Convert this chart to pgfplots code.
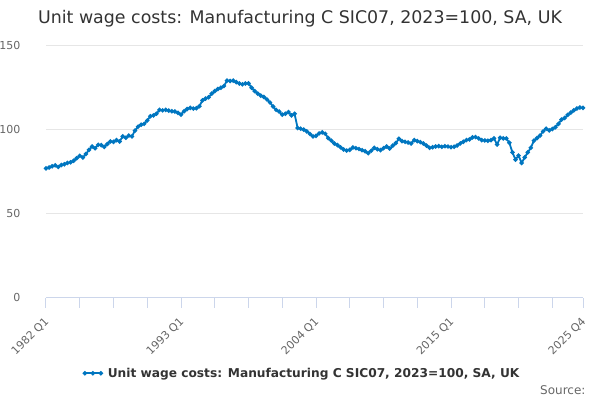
\documentclass[border=0pt]{standalone}
\usepackage{pgfplots}
\pgfplotsset{compat=1.18}
\usepackage{pgfplotstable}
\usepackage{fontspec}
\setmainfont{DejaVu Sans}
\definecolor{linec}{RGB}{0,118,192}
\definecolor{axc}{RGB}{204,214,235}
\definecolor{gridc}{RGB}{230,230,230}
\definecolor{tickc}{RGB}{102,102,102}
\definecolor{titc}{RGB}{51,51,51}
\pgfplotstableread{
q v
0 77.0
1 77.5
2 78.2
3 78.8
4 77.8
5 79.0
6 79.4
7 80.2
8 80.6
9 81.5
10 83.0
11 84.5
12 83.4
13 85.5
14 88.0
15 90.0
16 89.0
17 91.0
18 90.8
19 89.8
20 91.5
21 93.0
22 92.8
23 93.8
24 93.0
25 96.0
26 95.2
27 96.5
28 96.0
29 99.5
30 101.8
31 103.0
32 103.5
33 105.5
34 108.0
35 108.5
36 109.5
37 111.8
38 111.5
39 111.8
40 111.4
41 111.0
42 110.8
43 110.0
44 109.0
45 111.0
46 112.3
47 113.0
48 112.6
49 112.8
50 114.0
51 117.5
52 118.5
53 119.3
54 121.5
55 123.0
56 124.2
57 125.0
58 126.0
59 129.2
60 129.0
61 129.2
62 128.3
63 127.5
64 127.0
65 127.5
66 127.6
67 125.0
68 123.0
69 121.5
70 120.3
71 119.5
72 118.0
73 116.2
74 113.8
75 111.8
76 110.8
77 109.0
78 109.5
79 110.5
80 108.5
81 109.5
82 101.0
83 100.6
84 100.0
85 99.0
86 97.5
87 96.0
88 96.3
89 97.8
90 98.4
91 97.6
92 95.0
93 93.5
94 91.8
95 90.8
96 89.5
97 88.2
98 87.6
99 88.0
100 89.4
101 89.0
102 88.5
103 87.8
104 87.2
105 86.0
106 87.5
107 89.2
108 88.4
109 87.8
110 89.0
111 90.0
112 88.8
113 90.5
114 92.0
115 94.6
116 93.2
117 92.8
118 92.4
119 91.8
120 93.8
121 93.2
122 92.6
123 91.8
124 90.5
125 89.2
126 89.6
127 90.0
128 90.2
129 89.8
130 90.2
131 90.0
132 89.6
133 89.8
134 90.6
135 91.8
136 92.8
137 93.8
138 94.2
139 95.4
140 95.6
141 94.8
142 93.8
143 93.6
144 93.4
145 93.8
146 94.8
147 91.2
148 95.2
149 94.8
150 94.8
151 92.2
152 86.5
153 82.2
154 84.6
155 80.2
156 83.5
157 86.5
158 89.2
159 93.5
160 95.0
161 96.5
162 99.0
163 100.6
164 99.6
165 100.4
166 101.5
167 103.5
168 106.0
169 107.0
170 108.8
171 110.2
172 111.5
173 112.6
174 113.2
175 113.0
}\uwc
\begin{document}
\begin{tikzpicture}[x=1pt,y=1pt]
\useasboundingbox (0,0) rectangle (600,400);
\node[text=titc,font=\fontsize{17.4}{20}\selectfont] at (300,381) {Unit wage costs: Manufacturing C SIC07, 2023=100, SA, UK};
\node[anchor=base east,text=tickc,font=\fontsize{12}{14}\selectfont] at (589,6) {Source:};
\begin{axis}[
  at={(46pt,102.3pt)}, anchor=south west,
  width=537pt, height=252pt, scale only axis,
  xmin=0, xmax=175, ymin=0, ymax=150,
  axis x line*=bottom, axis y line*=left,
  x axis line style={draw=axc, line width=1pt},
  y axis line style={draw=none},
  ytick={0,50,100,150},
  ymajorgrids, grid style={draw=gridc, line width=0.8pt},
  ytick style={draw=none},
  xtick={0,44,88,132,175},
  xticklabels={1982 Q1,1993 Q1,2004 Q1,2015 Q1,2025 Q4},
  minor xtick={11,22,33,55,66,77,99,110,121,143,154,165},
  xtick style={draw=axc, line width=1pt},
  major tick length=10pt, minor tick length=10pt, tick align=outside,
  /pgf/number format/assume math mode=true,
  ticklabel style={text=tickc, font=\fontsize{11}{13}\selectfont},
  yticklabel style={anchor=east, xshift=-12pt},
  xticklabel style={rotate=45, anchor=north east, xshift=-4.5pt, yshift=-1pt},
  legend style={at={(0.5,-0.3)}, xshift=-12pt, anchor=center, draw=none, fill=none,
    font=\bfseries\fontsize{12.2}{14}\selectfont, text=titc},
  legend image code/.code={\draw[#1] plot coordinates {(0pt,0pt) (8pt,0pt) (16pt,0pt)}; \path (20pt,0pt);},
  clip=false,
]
\addplot[color=linec, line width=1.8pt, mark=*, mark size=1.2pt, mark options={solid}] table[x=q,y=v]{\uwc};
\addlegendentry{Unit wage costs: Manufacturing C SIC07, 2023=100, SA, UK}
\end{axis}
\end{tikzpicture}
\end{document}
